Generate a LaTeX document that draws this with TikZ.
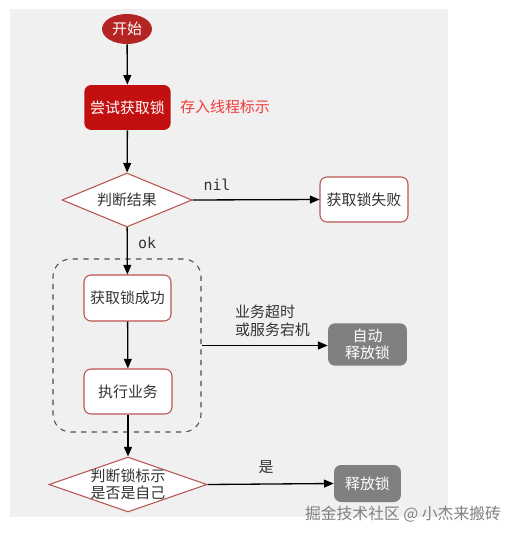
\documentclass[tikz,border=0pt]{standalone}
\usepackage{fontspec}
\setmainfont{Noto Sans CJK SC}
\newfontfamily\codefont{DejaVu Sans Mono}
\usetikzlibrary{shapes.geometric,arrows.meta}
\definecolor{bgGray}{HTML}{F0F0F0}
\definecolor{lockRed}{HTML}{C21010}
\definecolor{startRed}{HTML}{B42422}
\definecolor{edgeRed}{HTML}{B85450}
\definecolor{noteRed}{HTML}{F23A3A}
\definecolor{boxGray}{HTML}{808080}
\definecolor{txtGray}{HTML}{333333}
\begin{document}
\begin{tikzpicture}[
    x=0.02cm, y=-0.02cm,
    every node/.style={font=\fontsize{8.5}{10.2}\selectfont, align=center},
    proc/.style={rectangle, rounded corners=4pt, draw=edgeRed, fill=white, line width=0.6pt, minimum width=1.76cm, minimum height=0.9cm, text=txtGray},
    dec/.style={diamond, draw=edgeRed, fill=white, line width=0.6pt, inner xsep=-4pt, inner ysep=0pt, aspect=2.85, text=txtGray},
    done/.style={rectangle, rounded corners=4pt, fill=boxGray, text=white},
    lbl/.style={text=txtGray},
    code/.style={font=\codefont\fontsize{8.5}{10}\selectfont, text=txtGray},
    arr/.style={-{Triangle[length=5.5pt, width=4.5pt]}, line width=0.75pt, black}
]
    \useasboundingbox (0,0) rectangle (518,538);
    \fill[bgGray] (10,9) rectangle (448,517);
    \node[ellipse, fill=startRed, text=white, minimum width=1cm, minimum height=0.6cm, inner sep=0pt] (start) at (127,29) {开始};
    \node[rectangle, rounded corners=4pt, fill=lockRed, text=white, minimum width=1.62cm, minimum height=0.9cm] (try) at (127.5,107.5) {尝试获取锁};
    \node[text=noteRed, anchor=west] (note) at (174,107) {存入线程标示};
    \node[dec, minimum width=2.6cm, minimum height=1.08cm] (judge) at (127,200) {判断结果};
    \node[proc] (fail) at (364,199.5) {获取锁失败};
    \node[rectangle, draw=black!70, dashed, rounded corners=10pt, line width=0.6pt, minimum width=2.96cm, minimum height=3.46cm] (grp) at (127,345.5) {};
    \node[proc, minimum width=1.74cm, minimum height=0.92cm] (succ) at (127.5,298) {获取锁成功};
    \node[proc] (exec) at (128,391.5) {执行业务};
    \node[done, minimum width=1.58cm, minimum height=0.7cm, font=\fontsize{8.5}{9.6}\selectfont] (auto) at (367.5,344.5) {自动\\释放锁};
    \node[dec, minimum width=3.16cm, minimum height=1.1cm, font=\fontsize{8.5}{9.6}\selectfont] (judge2) at (128,484.5) {判断锁标示\\是否是自己};
    \node[done, minimum width=1.34cm, minimum height=0.74cm] (release) at (367.5,483.5) {释放锁};
    \foreach \a/\b in {start/try, try/judge, judge/succ, succ/exec, exec/judge2} {
        \draw[arr] (\a) -- (\b);
    }
    \draw[arr] (judge.east) -- (fail.west);
    \draw[arr] (grp.east) -- (grp.east -| auto.west);
    \draw[arr] (judge2.east) -- (release.west);
    \node[code] (nil) at (217,185) {nil};
    \node[code] (ok) at (147,243) {ok};
    \node[lbl, align=left, anchor=west, font=\fontsize{8.5}{10.2}\selectfont] (timeout) at (229,321) {业务超时\\或服务宕机};
    \node[lbl] (yes) at (266,467) {是};
    \node[text=gray, font=\fontsize{9}{10}\selectfont] (mark) at (403,514) {掘金技术社区 @ 小杰来搬砖};
\end{tikzpicture}
\end{document}
